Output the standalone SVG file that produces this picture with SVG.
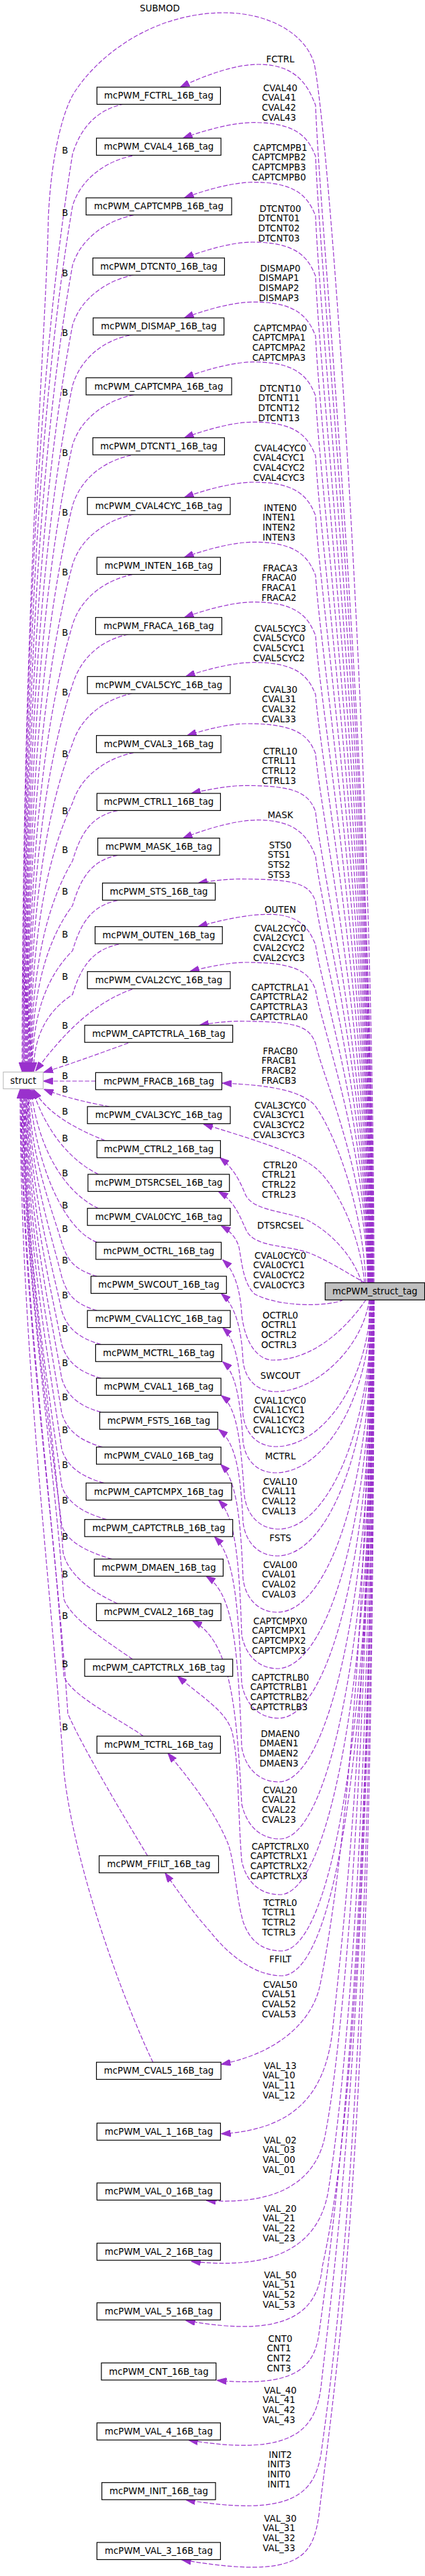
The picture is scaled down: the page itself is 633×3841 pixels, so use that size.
<svg xmlns="http://www.w3.org/2000/svg" width="633" height="3841" viewBox="0 0 633 3841">
<defs>
<marker id="a" markerUnits="userSpaceOnUse" markerWidth="14" markerHeight="10" viewBox="0 0 13.3 9.34" refX="13.3" refY="4.67" orient="auto"><path d="M0,0 L13.3,4.67 L0,9.34 z" fill="#9a32cd" stroke="#9a32cd" stroke-width="1"/></marker>
</defs>
<style>
.n rect{fill:#fff;stroke:#000;stroke-width:1.2}
.t{font-family:"DejaVu Sans","Liberation Sans",sans-serif;font-size:13.33px;text-anchor:middle;fill:#000}
.e path{fill:none;stroke:#9a32cd;stroke-width:1.2;stroke-dasharray:6.67,2.67;marker-end:url(#a)}
</style>
<rect x="0" y="0" width="633" height="3841" fill="#fff"/>
<g id="connectors" class="e">
<path d="M557,1913 C557,1100 490,200 468,95 C455,50 400,19 334,19 C230,19 150,80 114,133 C95,158 76,230 72,325 C68,520 33,900 33,1598"/>
<path d="M556,1913 C556,1122.8 478,367.7 470,157 C460,132 445,96 384.5,96 C349.7,96 303.3,113 268.5,130"/>
<path d="M555.5,1913 C555.5,1157 478,434.6 470,233 C460,208 445,182.7 378,182.7 C346.4,182.7 304.2,194.4 272.6,206"/>
<path d="M555,1913 C555,1197 478,512.9 470,322 C460,297 445,271.7 378,271.7 C347,271.7 305.6,283.4 274.6,295"/>
<path d="M554.5,1913 C554.5,1237.4 478,591.9 470,411.7 C460,386.7 445,361 376,361 C345.6,361 305,372.9 274.6,384.7"/>
<path d="M554,1913 C554,1277.6 478,670.4 470,501 C460,476 445,450.3 378,450.3 C347,450.3 305.6,462.2 274.6,474"/>
<path d="M553.5,1913 C553.5,1317.8 478,749 470,590.3 C460,565.3 445,539.7 378,539.7 C347,539.7 305.6,551.5 274.6,563.3"/>
<path d="M553,1913 C553,1358 478,827.7 470,679.7 C460,654.7 445,629.3 378,629.3 C347,629.3 305.6,641 274.6,652.7"/>
<path d="M552.5,1913 C552.5,1398 478,906 470,768.7 C460,743.7 445,719 378,719 C347,719 305.6,730.4 274.6,741.7"/>
<path d="M552,1913 C552,1438.2 478,984.6 470,858 C460,833 445,808.3 378,808.3 C347,808.3 305.6,819.7 274.6,831"/>
<path d="M551.5,1913 C551.5,1478.6 478,1063.5 470,947.7 C460,922.7 445,897.7 378,897.7 C347,897.7 305.6,909.2 274.6,920.7"/>
<path d="M551,1913 C551,1518.2 478,1141 470,1035.7 C460,1010.7 445,987.7 378,987.7 C347.6,987.7 307,998.2 276.6,1008.7"/>
<path d="M550.5,1913 C550.5,1557.8 478,1218.4 470,1123.7 C460,1098.7 445,1079 368,1079 C341.2,1079 305.5,1087.9 278.7,1096.7"/>
<path d="M550,1913 C550,1596.6 478,1294.4 470,1210 C460,1185 445,1171.3 366,1171.3 C341.6,1171.3 309.2,1177.2 284.8,1183"/>
<path d="M549.5,1913 C549.5,1626.7 478,1353.1 470,1276.7 C460,1251.7 445,1222.7 384.5,1222.7 C350.9,1222.7 306.2,1236.2 272.6,1249.7"/>
<path d="M549,1913 C549,1656.8 478,1412 470,1343.7 C460,1318.7 445,1310.7 356,1310.7 C337.7,1310.7 313.3,1313.7 295,1316.7"/>
<path d="M548.5,1913 C548.5,1686 478,1469.2 470,1408.7 C460,1383.7 445,1363.3 400,1363.3 C368.5,1363.3 326.5,1372.5 295,1381.7"/>
<path d="M548,1913 C548,1716.2 478,1528.2 470,1475.7 C460,1450.7 445,1435 366,1435 C341,1435 307.7,1441.9 282.7,1448.7"/>
<path d="M547.5,1913 C547.5,1752.2 478,1598.6 470,1555.7 C460,1530.7 445,1522.7 354,1522.7 C336.9,1522.7 314.1,1525.7 297,1528.7"/>
<path d="M545,1913 C540,1800 500,1690 468,1647 C445,1625 400,1618 331,1615"/>
<path d="M543,1913 C535,1830 495,1760 468,1740 C440,1718 380,1700 303,1676"/>
<path d="M539,1913 C525,1870 490,1835 455,1818 C420,1805 375,1805 365,1780 C355,1755 345,1740 327.5,1726"/>
<path d="M544,1913 C520,1900 490,1880 460,1868 C425,1856 380,1860 367,1835 C356,1810 348,1790 325.5,1776.7"/>
<path d="M512,1938 C490,1948 420,1950 380,1930 C362,1915 360,1880 356,1860 C352,1845 342,1835 329.5,1827.7"/>
<path d="M545,1938 C520,1975 470,2028 407,2028 C385,2028 365,2005 360,1960 C358,1925 350,1895 331.6,1878.3"/>
<path d="M550,1938 C540,2010 470,2075 411,2075 C385,2075 366,2060 362,2030 C360,1985 352,1948 329.5,1928.7"/>
<path d="M552,1938 C550,2060 480,2157 411,2157 C385,2157 366,2140 362,2110 C358,2040 352,1998 331.6,1979.5"/>
<path d="M553,1938 C552,2090 480,2196 411,2196 C385,2196 366,2180 362,2150 C358,2090 352,2048 331.6,2030.2"/>
<path d="M554,1938 C553,2140 485,2280 415,2280 C389,2280 368,2262 364,2230 C358,2140 352,2098 329.5,2080.7"/>
<path d="M554.5,1938 C553,2170 485,2320 413,2320 C387,2320 366,2302 362,2270 C358,2190 350,2150 325.5,2131.3"/>
<path d="M555,1938 C554,2230 485,2404 413,2404 C387,2404 366,2386 362,2354 C358,2250 350,2205 328.7,2183.3"/>
<path d="M555.5,1938 C555,2280 485,2488 413,2488 C387,2488 366,2470 360,2438 C356,2310 348,2260 325.5,2236.7"/>
<path d="M556,1938 C556,2330 487,2562 415,2562 C389,2562 366,2545 360,2510 C354,2380 348,2320 319.4,2291.3"/>
<path d="M556,1938 C556,2390 487,2657 415,2657 C389,2657 366,2640 360,2605 C354,2440 345,2375 307,2350"/>
<path d="M556.5,1938 C556.5,2440 490,2742 417,2742 C390,2742 368,2725 360,2690 C352,2530 340,2445 286.8,2416.7"/>
<path d="M557,1938 C557,2500 490,2825 417,2825 C390,2825 368,2810 360,2775 C354,2700 356,2620 345,2580 C335,2550 300,2530 264.4,2499.3"/>
<path d="M557,1938 C557,2560 495,2909 419,2909 C392,2909 372,2895 362,2865 C352,2830 350,2780 340,2750 C320,2700 280,2650 250,2614"/>
<path d="M556,1938 C556,2600 500,2946 419,2946 C380,2946 340,2915 313,2880 C290,2855 265,2820 246,2792.7"/>
<path d="M550,1938 C548,2500 500,2850 476,2963 C465,3010 420,3060 329.5,3078"/>
<path d="M551,1938 C551,2500 520,2800 495,3030 C485,3110 450,3175 329.5,3181.7"/>
<path d="M552,1938 C552,2600 510,3050 485,3180 C475,3240 430,3290 307,3281"/>
<path d="M553,1938 C553,2700 515,3100 490,3260 C482,3320 445,3390 284.8,3371.7"/>
<path d="M554,1938 C554,2800 520,3200 480,3380 C474,3440 440,3490 276.6,3460"/>
<path d="M555,1938 C555,2900 500,3300 475,3480 C468,3530 440,3560 323.4,3549.3"/>
<path d="M556,1938 C556,3000 495,3400 478,3560 C470,3620 440,3665 280.7,3638.3"/>
<path d="M556.5,1938 C556.5,3100 500,3500 478,3660 C468,3715 440,3755 276.6,3727.3"/>
<path d="M557,1938 C557,3200 505,3500 475,3750 C466,3810 450,3848 270.5,3816.7"/>
<path d="M185,155 C145,163 120,190 108,230 C63.6,503.6 34,914 34,1598"/>
<path d="M197,232.3 C157,240.3 120,267.3 108,307.3 C64.2,565.4 35,952.7 35,1598"/>
<path d="M199,320.7 C159,328.7 120,355.7 108,395.7 C64.8,636.2 36,996.9 36,1598"/>
<path d="M199,410 C159,418 120,445 108,485 C65.4,707.6 37,1041.5 37,1598"/>
<path d="M193,500 C153,508 120,535 108,575 C66,779.6 38,1086.5 38,1598"/>
<path d="M199,588.7 C159,596.7 120,623.7 108,663.7 C66.6,850.6 39,1130.9 39,1598"/>
<path d="M195,679 C155,687 120,714 108,754 C67.2,922.8 40,1176 40,1598"/>
<path d="M199,767 C159,775 120,802 108,842 C67.8,993.2 41,1220 41,1598"/>
<path d="M197,856.7 C157,864.7 120,891.7 108,931.7 C68.4,1065 42,1264.9 42,1598"/>
<path d="M191,946 C151,954 120,981 108,1021 C69,1136.4 43,1309.5 43,1598"/>
<path d="M197,1034 C157,1042 120,1069 108,1109 C69.6,1206.8 44,1353.5 44,1598"/>
<path d="M199,1122.3 C159,1130.3 120,1157.3 108,1197.3 C70.2,1277.4 45,1397.7 45,1598"/>
<path d="M175,1208.7 C135,1216.7 120,1243.7 108,1283.7 C70.8,1346.6 46,1440.9 46,1598"/>
<path d="M175,1275.3 C135,1283.3 120,1310.3 108,1350.3 C71.4,1399.8 47,1474.2 47,1598"/>
<path d="M175,1342.7 C135,1350.7 120,1377.7 108,1417.7 C72,1453.8 48,1507.9 48,1598"/>
<path d="M177,1408 C137,1416 120,1443 108,1483 C73.2,1506 50,1540.5 50,1598"/>
<path d="M197,1475 C140,1495 95,1540 53,1597"/>
<path d="M191,1555.3 C150,1570 110,1585 65,1599"/>
<path d="M142.4,1612 L64.5,1612"/>
<path d="M163,1650 C130,1644 95,1636 65.5,1624"/>
<path d="M156.6,1700.7 C110,1682 70,1660 50,1624.5"/>
<path d="M146.5,1751 C105,1730 70,1690 48,1624.5"/>
<path d="M146.5,1801.7 C100,1780 58,1720 46,1624.5"/>
<path d="M144.4,1852.3 C95,1834 52,1735 44,1624.5"/>
<path d="M144.4,1903 C109.4,1893 100,1878 92,1853 C74.9,1795.8 43,1715.6 43,1624"/>
<path d="M144.4,1954 C109.4,1944 100,1929 92,1904 C74.5,1834 42,1736 42,1624"/>
<path d="M150.5,2004.7 C115.5,1994.7 100,1979.7 92,1954.7 C74.2,1872 41,1756.3 41,1624"/>
<path d="M150.5,2055 C115.5,2045 100,2030 92,2005 C73.8,1909.8 40,1776.4 40,1624"/>
<path d="M150.5,2105.7 C115.5,2095.7 100,2080.7 92,2055.7 C73.5,1947.8 39,1796.7 39,1624"/>
<path d="M152.6,2157.7 C117.6,2147.7 100,2132.7 92,2107.7 C73.1,1986.8 38,1817.5 38,1624"/>
<path d="M154.6,2211.3 C119.6,2201.3 100,2186.3 92,2161.3 C72.8,2027 37,1838.9 37,1624"/>
<path d="M158.7,2265.7 C123.7,2255.7 100,2240.7 92,2215.7 C72.4,2067.8 36,1860.7 36,1624"/>
<path d="M166.8,2324.7 C131.8,2314.7 100,2299.7 92,2274.7 C72,2112 35,1884.3 35,1624"/>
<path d="M175,2391 C140,2375 102,2350 94,2315 C79,2107.7 34,1865.9 34,1624"/>
<path d="M197.3,2474 C162,2449 105,2414 95,2384 C79.5,2156 33,1890 33,1624"/>
<path d="M213.6,2588.7 C178.6,2563.7 105,2528.7 95,2498.7 C79.3,2236.3 32,1930.1 32,1624"/>
<path d="M219.7,2767 C185,2710 120,2600 101,2555 C83.5,2275.7 31,1949.9 31,1624"/>
<path d="M227.8,3075 C180,2975 110,2780 95,2640 C75,2350 30,2000 30,1624"/>
<g id="edge-labels" class="t">
<text x="238" y="16.6">SUBMOD</text>
<text x="417.5" y="92.6">FCTRL</text>
<text x="417.5" y="135.6">CVAL40<tspan x="415.5" dy="14.67">CVAL41</tspan><tspan x="415.5" dy="14.67">CVAL42</tspan><tspan x="415.5" dy="14.67">CVAL43</tspan></text>
<text x="417.5" y="224.6">CAPTCMPB1<tspan x="415.5" dy="14.67">CAPTCMPB2</tspan><tspan x="415.5" dy="14.67">CAPTCMPB3</tspan><tspan x="415.5" dy="14.67">CAPTCMPB0</tspan></text>
<text x="417.5" y="315.6">DTCNT00<tspan x="415.5" dy="14.67">DTCNT01</tspan><tspan x="415.5" dy="14.67">DTCNT02</tspan><tspan x="415.5" dy="14.67">DTCNT03</tspan></text>
<text x="417.5" y="404.6">DISMAP0<tspan x="415.5" dy="14.67">DISMAP1</tspan><tspan x="415.5" dy="14.67">DISMAP2</tspan><tspan x="415.5" dy="14.67">DISMAP3</tspan></text>
<text x="417.5" y="493.6">CAPTCMPA0<tspan x="415.5" dy="14.67">CAPTCMPA1</tspan><tspan x="415.5" dy="14.67">CAPTCMPA2</tspan><tspan x="415.5" dy="14.67">CAPTCMPA3</tspan></text>
<text x="417.5" y="583.6">DTCNT10<tspan x="415.5" dy="14.67">DTCNT11</tspan><tspan x="415.5" dy="14.67">DTCNT12</tspan><tspan x="415.5" dy="14.67">DTCNT13</tspan></text>
<text x="417.5" y="672.6">CVAL4CYC0<tspan x="415.5" dy="14.67">CVAL4CYC1</tspan><tspan x="415.5" dy="14.67">CVAL4CYC2</tspan><tspan x="415.5" dy="14.67">CVAL4CYC3</tspan></text>
<text x="417.5" y="761.6">INTEN0<tspan x="415.5" dy="14.67">INTEN1</tspan><tspan x="415.5" dy="14.67">INTEN2</tspan><tspan x="415.5" dy="14.67">INTEN3</tspan></text>
<text x="417.5" y="851.6">FRACA3<tspan x="415.5" dy="14.67">FRACA0</tspan><tspan x="415.5" dy="14.67">FRACA1</tspan><tspan x="415.5" dy="14.67">FRACA2</tspan></text>
<text x="417.5" y="941.6">CVAL5CYC3<tspan x="415.5" dy="14.67">CVAL5CYC0</tspan><tspan x="415.5" dy="14.67">CVAL5CYC1</tspan><tspan x="415.5" dy="14.67">CVAL5CYC2</tspan></text>
<text x="417.5" y="1032.6">CVAL30<tspan x="415.5" dy="14.67">CVAL31</tspan><tspan x="415.5" dy="14.67">CVAL32</tspan><tspan x="415.5" dy="14.67">CVAL33</tspan></text>
<text x="417.5" y="1124.6">CTRL10<tspan x="415.5" dy="14.67">CTRL11</tspan><tspan x="415.5" dy="14.67">CTRL12</tspan><tspan x="415.5" dy="14.67">CTRL13</tspan></text>
<text x="417.5" y="1219.6">MASK</text>
<text x="417.5" y="1264.6">STS0<tspan x="415.5" dy="14.67">STS1</tspan><tspan x="415.5" dy="14.67">STS2</tspan><tspan x="415.5" dy="14.67">STS3</tspan></text>
<text x="417.5" y="1360.6">OUTEN</text>
<text x="417.5" y="1388.6">CVAL2CYC0<tspan x="415.5" dy="14.67">CVAL2CYC1</tspan><tspan x="415.5" dy="14.67">CVAL2CYC2</tspan><tspan x="415.5" dy="14.67">CVAL2CYC3</tspan></text>
<text x="417.5" y="1476.6">CAPTCTRLA1<tspan x="415.5" dy="14.67">CAPTCTRLA2</tspan><tspan x="415.5" dy="14.67">CAPTCTRLA3</tspan><tspan x="415.5" dy="14.67">CAPTCTRLA0</tspan></text>
<text x="417.5" y="1571.6">FRACB0<tspan x="415.5" dy="14.67">FRACB1</tspan><tspan x="415.5" dy="14.67">FRACB2</tspan><tspan x="415.5" dy="14.67">FRACB3</tspan></text>
<text x="417.5" y="1652.6">CVAL3CYC0<tspan x="415.5" dy="14.67">CVAL3CYC1</tspan><tspan x="415.5" dy="14.67">CVAL3CYC2</tspan><tspan x="415.5" dy="14.67">CVAL3CYC3</tspan></text>
<text x="417.5" y="1741.6">CTRL20<tspan x="415.5" dy="14.67">CTRL21</tspan><tspan x="415.5" dy="14.67">CTRL22</tspan><tspan x="415.5" dy="14.67">CTRL23</tspan></text>
<text x="417.5" y="1831.6">DTSRCSEL</text>
<text x="417.5" y="1876.6">CVAL0CYC0<tspan x="415.5" dy="14.67">CVAL0CYC1</tspan><tspan x="415.5" dy="14.67">CVAL0CYC2</tspan><tspan x="415.5" dy="14.67">CVAL0CYC3</tspan></text>
<text x="417.5" y="1965.6">OCTRL0<tspan x="415.5" dy="14.67">OCTRL1</tspan><tspan x="415.5" dy="14.67">OCTRL2</tspan><tspan x="415.5" dy="14.67">OCTRL3</tspan></text>
<text x="417.5" y="2055.6">SWCOUT</text>
<text x="417.5" y="2092.6">CVAL1CYC0<tspan x="415.5" dy="14.67">CVAL1CYC1</tspan><tspan x="415.5" dy="14.67">CVAL1CYC2</tspan><tspan x="415.5" dy="14.67">CVAL1CYC3</tspan></text>
<text x="417.5" y="2175.6">MCTRL</text>
<text x="417.5" y="2213.6">CVAL10<tspan x="415.5" dy="14.67">CVAL11</tspan><tspan x="415.5" dy="14.67">CVAL12</tspan><tspan x="415.5" dy="14.67">CVAL13</tspan></text>
<text x="417.5" y="2297.6">FSTS</text>
<text x="417.5" y="2337.6">CVAL00<tspan x="415.5" dy="14.67">CVAL01</tspan><tspan x="415.5" dy="14.67">CVAL02</tspan><tspan x="415.5" dy="14.67">CVAL03</tspan></text>
<text x="417.5" y="2421.6">CAPTCMPX0<tspan x="415.5" dy="14.67">CAPTCMPX1</tspan><tspan x="415.5" dy="14.67">CAPTCMPX2</tspan><tspan x="415.5" dy="14.67">CAPTCMPX3</tspan></text>
<text x="417.5" y="2505.6">CAPTCTRLB0<tspan x="415.5" dy="14.67">CAPTCTRLB1</tspan><tspan x="415.5" dy="14.67">CAPTCTRLB2</tspan><tspan x="415.5" dy="14.67">CAPTCTRLB3</tspan></text>
<text x="417.5" y="2589.6">DMAEN0<tspan x="415.5" dy="14.67">DMAEN1</tspan><tspan x="415.5" dy="14.67">DMAEN2</tspan><tspan x="415.5" dy="14.67">DMAEN3</tspan></text>
<text x="417.5" y="2673.6">CVAL20<tspan x="415.5" dy="14.67">CVAL21</tspan><tspan x="415.5" dy="14.67">CVAL22</tspan><tspan x="415.5" dy="14.67">CVAL23</tspan></text>
<text x="417.5" y="2757.6">CAPTCTRLX0<tspan x="415.5" dy="14.67">CAPTCTRLX1</tspan><tspan x="415.5" dy="14.67">CAPTCTRLX2</tspan><tspan x="415.5" dy="14.67">CAPTCTRLX3</tspan></text>
<text x="417.5" y="2841.6">TCTRL0<tspan x="415.5" dy="14.67">TCTRL1</tspan><tspan x="415.5" dy="14.67">TCTRL2</tspan><tspan x="415.5" dy="14.67">TCTRL3</tspan></text>
<text x="417.5" y="2925.6">FFILT</text>
<text x="417.5" y="2963.6">CVAL50<tspan x="415.5" dy="14.67">CVAL51</tspan><tspan x="415.5" dy="14.67">CVAL52</tspan><tspan x="415.5" dy="14.67">CVAL53</tspan></text>
<text x="417.5" y="3084.6">VAL_13<tspan x="415.5" dy="14.67">VAL_10</tspan><tspan x="415.5" dy="14.67">VAL_11</tspan><tspan x="415.5" dy="14.67">VAL_12</tspan></text>
<text x="417.5" y="3195.6">VAL_02<tspan x="415.5" dy="14.67">VAL_03</tspan><tspan x="415.5" dy="14.67">VAL_00</tspan><tspan x="415.5" dy="14.67">VAL_01</tspan></text>
<text x="417.5" y="3297.6">VAL_20<tspan x="415.5" dy="14.67">VAL_21</tspan><tspan x="415.5" dy="14.67">VAL_22</tspan><tspan x="415.5" dy="14.67">VAL_23</tspan></text>
<text x="417.5" y="3396.6">VAL_50<tspan x="415.5" dy="14.67">VAL_51</tspan><tspan x="415.5" dy="14.67">VAL_52</tspan><tspan x="415.5" dy="14.67">VAL_53</tspan></text>
<text x="417.5" y="3491.6">CNT0<tspan x="415.5" dy="14.67">CNT1</tspan><tspan x="415.5" dy="14.67">CNT2</tspan><tspan x="415.5" dy="14.67">CNT3</tspan></text>
<text x="417.5" y="3568.6">VAL_40<tspan x="415.5" dy="14.67">VAL_41</tspan><tspan x="415.5" dy="14.67">VAL_42</tspan><tspan x="415.5" dy="14.67">VAL_43</tspan></text>
<text x="417.5" y="3664.6">INIT2<tspan x="415.5" dy="14.67">INIT3</tspan><tspan x="415.5" dy="14.67">INIT0</tspan><tspan x="415.5" dy="14.67">INIT1</tspan></text>
<text x="417.5" y="3759.6">VAL_30<tspan x="415.5" dy="14.67">VAL_31</tspan><tspan x="415.5" dy="14.67">VAL_32</tspan><tspan x="415.5" dy="14.67">VAL_33</tspan></text>
<text x="96.8" y="228.6">B</text><text x="96.8" y="321.6">B</text><text x="96.8" y="411.6">B</text><text x="96.8" y="500.6">B</text>
<text x="96.8" y="589.9">B</text><text x="96.8" y="679.6">B</text><text x="96.8" y="768.6">B</text><text x="96.8" y="857.6">B</text>
<text x="96.8" y="947.6">B</text><text x="96.8" y="1036.6">B</text><text x="96.8" y="1128.6">B</text><text x="96.8" y="1213.6">B</text>
<text x="96.8" y="1272.2">B</text><text x="96.8" y="1333.6">B</text><text x="96.8" y="1397.6">B</text><text x="96.8" y="1460.6">B</text>
<text x="96.8" y="1533.6">B</text><text x="96.8" y="1584.6">B</text><text x="96.8" y="1608.9">B</text><text x="96.8" y="1628.6">B</text>
<text x="96.8" y="1661.6">B</text><text x="96.8" y="1701.6">B</text><text x="96.8" y="1753.6">B</text><text x="96.8" y="1801.6">B</text>
<text x="96.8" y="1836.6">B</text><text x="96.8" y="1884.2">B</text><text x="96.8" y="1935.6">B</text><text x="96.8" y="1985.6">B</text>
<text x="96.8" y="2036.6">B</text><text x="96.8" y="2087.6">B</text><text x="96.8" y="2137.2">B</text><text x="96.8" y="2188.6">B</text>
<text x="96.8" y="2241.6">B</text><text x="96.8" y="2295.6">B</text><text x="96.8" y="2351.6">B</text><text x="96.8" y="2413.6">B</text>
<text x="96.8" y="2485.6">B</text><text x="96.8" y="2579.6">B</text>
</g>
</g>
<g id="n-struct"><rect x="4.9" y="1598.5" width="59.4" height="25" fill="#fff" stroke="#bfbfbf" stroke-width="1.2"/><text class="t" x="34.6" y="1615.6">struct</text></g>
<g id="n-mcPWM_struct_tag"><rect x="484.3" y="1912.7" width="148.2" height="25.6" fill="#bfbfbf" stroke="#000" stroke-width="1.2"/><text class="t" x="558.4" y="1930.2">mcPWM_struct_tag</text></g>
<g id="n-FCTRL" class="n"><rect x="144.4" y="130" width="184" height="25.5"/><text class="t" x="236.5" y="147.2">mcPWM_FCTRL_16B_tag</text></g>
<g id="n-CVAL4" class="n"><rect x="143.6" y="206" width="185.5" height="25.5"/><text class="t" x="236.5" y="223.2">mcPWM_CVAL4_16B_tag</text></g>
<g id="n-CAPTCMPB" class="n"><rect x="128.2" y="295" width="216.8" height="25.5"/><text class="t" x="236.5" y="312.2">mcPWM_CAPTCMPB_16B_tag</text></g>
<g id="n-DTCNT0" class="n"><rect x="138.3" y="384.7" width="196.1" height="25.5"/><text class="t" x="236.5" y="401.9">mcPWM_DTCNT0_16B_tag</text></g>
<g id="n-DISMAP" class="n"><rect x="138.7" y="474" width="194.9" height="25.5"/><text class="t" x="236.5" y="491.2">mcPWM_DISMAP_16B_tag</text></g>
<g id="n-CAPTCMPA" class="n"><rect x="128.2" y="563.3" width="216.8" height="25.5"/><text class="t" x="236.5" y="580.5">mcPWM_CAPTCMPA_16B_tag</text></g>
<g id="n-DTCNT1" class="n"><rect x="138.3" y="652.7" width="196.1" height="25.5"/><text class="t" x="236.5" y="669.9">mcPWM_DTCNT1_16B_tag</text></g>
<g id="n-CVAL4CYC" class="n"><rect x="130.2" y="741.7" width="212.8" height="25.5"/><text class="t" x="236.5" y="758.9">mcPWM_CVAL4CYC_16B_tag</text></g>
<g id="n-INTEN" class="n"><rect x="144.4" y="831" width="184" height="25.5"/><text class="t" x="236.5" y="848.2">mcPWM_INTEN_16B_tag</text></g>
<g id="n-FRACA" class="n"><rect x="142.4" y="920.7" width="188" height="25.5"/><text class="t" x="236.5" y="937.9">mcPWM_FRACA_16B_tag</text></g>
<g id="n-CVAL5CYC" class="n"><rect x="130.2" y="1008.7" width="212.8" height="25.5"/><text class="t" x="236.5" y="1025.9">mcPWM_CVAL5CYC_16B_tag</text></g>
<g id="n-CVAL3" class="n"><rect x="143.6" y="1096.7" width="185.5" height="25.5"/><text class="t" x="236.5" y="1113.9">mcPWM_CVAL3_16B_tag</text></g>
<g id="n-CTRL1" class="n"><rect x="144.4" y="1183" width="184" height="25.5"/><text class="t" x="236.5" y="1200.2">mcPWM_CTRL1_16B_tag</text></g>
<g id="n-MASK" class="n"><rect x="145.6" y="1249.7" width="181.5" height="25.5"/><text class="t" x="236.5" y="1266.9">mcPWM_MASK_16B_tag</text></g>
<g id="n-STS" class="n"><rect x="152.6" y="1316.7" width="168" height="25.5"/><text class="t" x="236.5" y="1333.9">mcPWM_STS_16B_tag</text></g>
<g id="n-OUTEN" class="n"><rect x="141.6" y="1381.7" width="189.6" height="25.5"/><text class="t" x="236.5" y="1398.9">mcPWM_OUTEN_16B_tag</text></g>
<g id="n-CVAL2CYC" class="n"><rect x="130.2" y="1448.7" width="212.8" height="25.5"/><text class="t" x="236.5" y="1465.9">mcPWM_CVAL2CYC_16B_tag</text></g>
<g id="n-CAPTCTRLA" class="n"><rect x="126.1" y="1528.7" width="220.5" height="25.5"/><text class="t" x="236.5" y="1545.9">mcPWM_CAPTCTRLA_16B_tag</text></g>
<g id="n-FRACB" class="n"><rect x="142.4" y="1599.3" width="188" height="25.5"/><text class="t" x="236.5" y="1616.5">mcPWM_FRACB_16B_tag</text></g>
<g id="n-CVAL3CYC" class="n"><rect x="130.2" y="1650" width="212.8" height="25.5"/><text class="t" x="236.5" y="1667.2">mcPWM_CVAL3CYC_16B_tag</text></g>
<g id="n-CTRL2" class="n"><rect x="144.4" y="1700.7" width="184" height="25.5"/><text class="t" x="236.5" y="1717.9">mcPWM_CTRL2_16B_tag</text></g>
<g id="n-DTSRCSEL" class="n"><rect x="131" y="1751" width="210.7" height="25.5"/><text class="t" x="236.5" y="1768.2">mcPWM_DTSRCSEL_16B_tag</text></g>
<g id="n-CVAL0CYC" class="n"><rect x="130.2" y="1801.7" width="212.8" height="25.5"/><text class="t" x="236.5" y="1818.9">mcPWM_CVAL0CYC_16B_tag</text></g>
<g id="n-OCTRL" class="n"><rect x="142.8" y="1852.3" width="186.7" height="25.5"/><text class="t" x="236.5" y="1869.5">mcPWM_OCTRL_16B_tag</text></g>
<g id="n-SWCOUT" class="n"><rect x="135.5" y="1903" width="201.8" height="25.5"/><text class="t" x="236.5" y="1920.2">mcPWM_SWCOUT_16B_tag</text></g>
<g id="n-CVAL1CYC" class="n"><rect x="130.2" y="1954" width="212.8" height="25.5"/><text class="t" x="236.5" y="1971.2">mcPWM_CVAL1CYC_16B_tag</text></g>
<g id="n-MCTRL" class="n"><rect x="142.4" y="2004.7" width="188" height="25.5"/><text class="t" x="236.5" y="2021.9">mcPWM_MCTRL_16B_tag</text></g>
<g id="n-CVAL1" class="n"><rect x="143.6" y="2055" width="185.5" height="25.5"/><text class="t" x="236.5" y="2072.2">mcPWM_CVAL1_16B_tag</text></g>
<g id="n-FSTS" class="n"><rect x="148.5" y="2105.7" width="175.8" height="25.5"/><text class="t" x="236.5" y="2122.9">mcPWM_FSTS_16B_tag</text></g>
<g id="n-CVAL0" class="n"><rect x="143.6" y="2157.7" width="185.5" height="25.5"/><text class="t" x="236.5" y="2174.9">mcPWM_CVAL0_16B_tag</text></g>
<g id="n-CAPTCMPX" class="n"><rect x="128.2" y="2211.3" width="216.8" height="25.5"/><text class="t" x="236.5" y="2228.5">mcPWM_CAPTCMPX_16B_tag</text></g>
<g id="n-CAPTCTRLB" class="n"><rect x="126.1" y="2265.7" width="220.5" height="25.5"/><text class="t" x="236.5" y="2282.9">mcPWM_CAPTCTRLB_16B_tag</text></g>
<g id="n-DMAEN" class="n"><rect x="140.4" y="2324.7" width="192" height="25.5"/><text class="t" x="236.5" y="2341.9">mcPWM_DMAEN_16B_tag</text></g>
<g id="n-CVAL2" class="n"><rect x="143.6" y="2391" width="185.5" height="25.5"/><text class="t" x="236.5" y="2408.2">mcPWM_CVAL2_16B_tag</text></g>
<g id="n-CAPTCTRLX" class="n"><rect x="126.1" y="2474" width="220.5" height="25.5"/><text class="t" x="236.5" y="2491.2">mcPWM_CAPTCTRLX_16B_tag</text></g>
<g id="n-TCTRL" class="n"><rect x="144.4" y="2588.7" width="184" height="25.5"/><text class="t" x="236.5" y="2605.9">mcPWM_TCTRL_16B_tag</text></g>
<g id="n-FFILT" class="n"><rect x="147.7" y="2767" width="177.8" height="25.5"/><text class="t" x="236.5" y="2784.2">mcPWM_FFILT_16B_tag</text></g>
<g id="n-CVAL5" class="n"><rect x="143.6" y="3075" width="185.5" height="25.5"/><text class="t" x="236.5" y="3092.2">mcPWM_CVAL5_16B_tag</text></g>
<g id="n-VAL_1" class="n"><rect x="144.4" y="3165.7" width="184" height="25.5"/><text class="t" x="236.5" y="3182.9">mcPWM_VAL_1_16B_tag</text></g>
<g id="n-VAL_0" class="n"><rect x="144.4" y="3255" width="184" height="25.5"/><text class="t" x="236.5" y="3272.2">mcPWM_VAL_0_16B_tag</text></g>
<g id="n-VAL_2" class="n"><rect x="144.4" y="3344.7" width="184" height="25.5"/><text class="t" x="236.5" y="3361.9">mcPWM_VAL_2_16B_tag</text></g>
<g id="n-VAL_5" class="n"><rect x="144.4" y="3433.7" width="184" height="25.5"/><text class="t" x="236.5" y="3450.9">mcPWM_VAL_5_16B_tag</text></g>
<g id="n-CNT" class="n"><rect x="151" y="3523.3" width="170.8" height="25.5"/><text class="t" x="236.5" y="3540.5">mcPWM_CNT_16B_tag</text></g>
<g id="n-VAL_4" class="n"><rect x="144.4" y="3612.7" width="184" height="25.5"/><text class="t" x="236.5" y="3629.9">mcPWM_VAL_4_16B_tag</text></g>
<g id="n-INIT" class="n"><rect x="151.7" y="3701.7" width="169.3" height="25.5"/><text class="t" x="236.5" y="3718.9">mcPWM_INIT_16B_tag</text></g>
<g id="n-VAL_3" class="n"><rect x="144.4" y="3791" width="184" height="25.5"/><text class="t" x="236.5" y="3808.2">mcPWM_VAL_3_16B_tag</text></g>
</svg>
